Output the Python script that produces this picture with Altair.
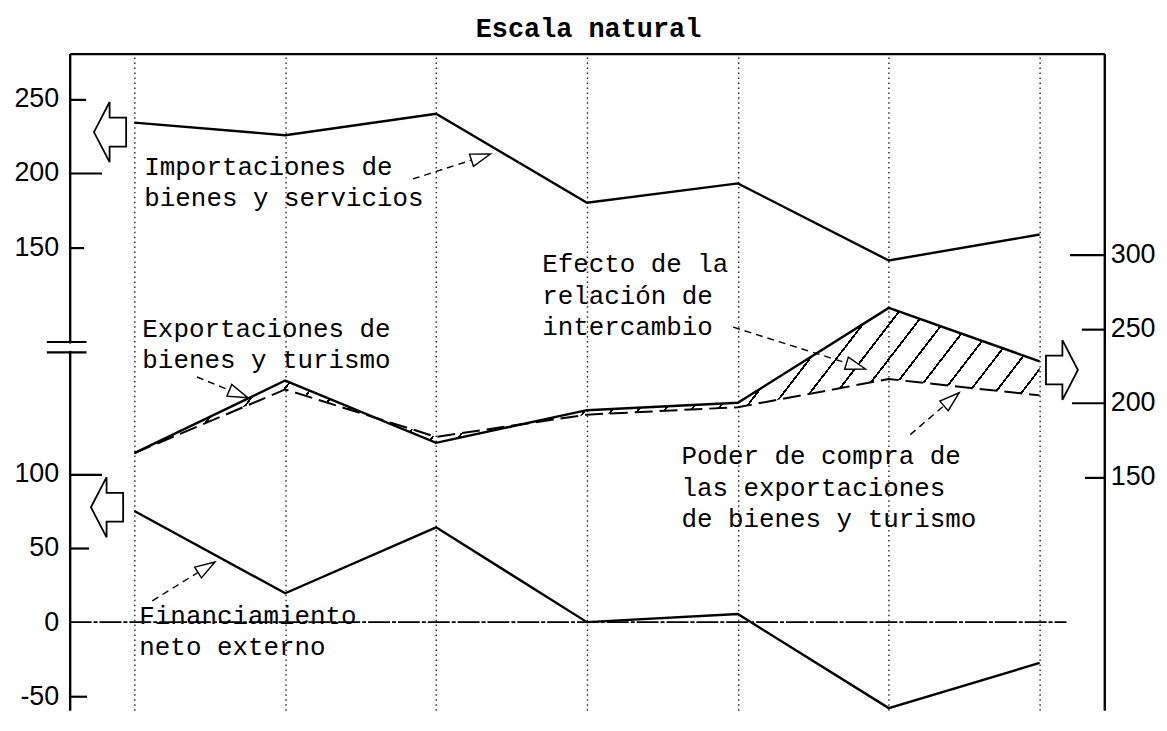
import altair as alt
import pandas as pd

# ---------------- data ----------------
periods = [1, 2, 3, 4, 5, 6, 7]

# upper-left scale
importaciones = [234, 225.5, 240, 180, 193, 141, 158.5]
# right-hand scale
exportaciones = [166, 215, 173, 195, 200, 264, 228]
poder_compra = [166, 209, 177, 192, 197, 216, 205]
# lower-left scale
financiamiento = [75, 19.5, 64, 0, 5.5, -58, -27.5]

# tick labels
left_upper_ticks = [250, 200, 150]
left_lower_ticks = [100, 50, 0, -50]
right_ticks = [300, 250, 200, 150]

# the plot is drawn in right-hand-scale units; the two left segments are shifted
UPPER_SHIFT = 155
LOWER_SHIFT = 52

TITLE = "Escala natural"

# ---------------- annotations (chart units) ----------------
label_text = [
    "Importaciones de\nbienes y servicios",
    "Exportaciones de\nbienes y turismo",
    "Efecto de la\nrelación de\nintercambio",
    "Poder de compra de\nlas exportaciones\nde bienes y turismo",
    "Financiamiento\nneto externo",
]
label_x = [1.066, 1.053, 3.703, 4.626, 1.033]
label_u = [353.7, 244.3, 287.9, 158.4, 51.0]

arrow_x0 = [2.846, 1.415, 4.969, 6.143, 1.119]
arrow_u0 = [351.0, 217.4, 251.0, 178.5, 66.4]
arrow_x1 = [3.360, 1.752, 5.846, 6.466, 1.534]
arrow_u1 = [367.8, 203.4, 222.8, 206.7, 92.6]
arrow_angle = [72, 112, 107, 49, 58]

block_left_x = [0.842, 0.822]
block_left_u = [382.6, 129.5]
block_right_x = [7.145]
block_right_u = [222.1]

MONO = "Courier New, Liberation Mono, monospace"
SANS = "Liberation Sans, Arial, sans-serif"
AXIS_FS = 27

# ---------------- tables ----------------
df_imp = pd.DataFrame({"periodo": periods, "valor": importaciones})
df_exp = pd.DataFrame({"periodo": periods, "valor": exportaciones})
df_pod = pd.DataFrame({"periodo": periods, "valor": poder_compra})
df_fin = pd.DataFrame({"periodo": periods, "valor": financiamiento})
df_hatch = pd.DataFrame({"periodo": periods, "exp": exportaciones, "pod": poder_compra})
df_labels = pd.DataFrame({"texto": label_text, "x": label_x, "u": label_u})
df_title = pd.DataFrame({"texto": [TITLE], "x": [4.01], "u": [447]})
df_arrows = pd.DataFrame({"x0": arrow_x0, "u0": arrow_u0, "x1": arrow_x1,
                          "u1": arrow_u1, "ang": arrow_angle})
df_bl = pd.DataFrame({"x": block_left_x, "u": block_left_u})
df_br = pd.DataFrame({"x": block_right_x, "u": block_right_u})
df_zero = pd.DataFrame({"x": [0.5714], "x2": [7.178], "valor": [0]})
df_break = pd.DataFrame({"x": [0.42, 0.42], "x2": [0.683, 0.683], "u": [241, 234]})
df_gap = pd.DataFrame({"x": [0.5714], "u": [235], "u2": [240]})

# ---------------- scales & axes ----------------
xscale = alt.Scale(domain=[0.5714, 7.4286], nice=False, zero=False)
yscale = alt.Scale(domain=[-7.38, 435.57], nice=False, zero=False)

x_axis = alt.Axis(orient="top", values=periods, labels=False, ticks=False,
                  domain=True, domainColor="black", domainWidth=2.4,
                  grid=True, gridDash=[1.5, 3.5], gridColor="#222", gridWidth=1.4,
                  title=None, minExtent=0, maxExtent=0)


def X(field):
    return alt.X(f"{field}:Q", scale=xscale, axis=x_axis)


left_vals = [t + UPPER_SHIFT for t in left_upper_ticks] + [t + LOWER_SHIFT for t in left_lower_ticks]
left_label_axis = alt.Axis(
    orient="left", values=left_vals,
    labelExpr=f"datum.value > 250 ? datum.value - {UPPER_SHIFT} : datum.value - {LOWER_SHIFT}",
    ticks=False, tickSize=0, domain=True, domainColor="black", domainWidth=2.4,
    labelFont=SANS, labelFontSize=AXIS_FS, labelColor="black",
    labelPadding=11, grid=False, title=None)

right_label_axis = alt.Axis(
    orient="right", values=right_ticks, format="d",
    ticks=False, tickSize=0, domain=True, domainColor="black", domainWidth=2.4,
    labelFont=SANS, labelFontSize=AXIS_FS, labelColor="black",
    labelPadding=6, grid=False, title=None)

left_tick_len = {250 + UPPER_SHIFT: 16, 200 + UPPER_SHIFT: 32, 150 + UPPER_SHIFT: 14,
                 100 + LOWER_SHIFT: 32, 50 + LOWER_SHIFT: 19, -50 + LOWER_SHIFT: 17}
right_tick_len = {300: 35, 250: 23, 200: 33, 150: 20}


def cond(d, default):
    return {"condition": [{"test": f"datum.value == {k}", "value": v} for k, v in d.items()],
            "value": default}


left_tick_axis = alt.Axis(orient="right", offset=-1040, values=list(left_tick_len.keys()),
                          labels=False, ticks=True, tickSize=cond(left_tick_len, 16),
                          tickWidth=2.2, tickColor="black", domain=False, grid=False, title=None)
right_tick_axis = alt.Axis(orient="left", offset=-1040, values=list(right_tick_len.keys()),
                           labels=False, ticks=True, tickSize=cond(right_tick_len, 20),
                           tickWidth=2.2, tickColor="black", domain=False, grid=False, title=None)

# ---------------- hatching (striped gradient) ----------------
n = 40
w = 0.09 / n
stops = []
for i in range(n):
    o = i / n
    stops += [alt.GradientStop(color="black", offset=o),
              alt.GradientStop(color="black", offset=o + w),
              alt.GradientStop(color="rgba(255,255,255,0)", offset=o + w),
              alt.GradientStop(color="rgba(255,255,255,0)", offset=(i + 1) / n)]
hatch_fill = alt.LinearGradient(gradient="linear", stops=stops, x1=0, y1=0, x2=1.15, y2=0.142)

LINE_W = 2.4

hatch = alt.Chart(df_hatch).mark_area(fill=hatch_fill, stroke=None).encode(
    x=X("periodo"), y=alt.Y("exp:Q", scale=yscale, axis=None), y2="pod:Q")

imp = alt.Chart(df_imp).transform_calculate(u=f"datum.valor + {UPPER_SHIFT}").mark_line(
    color="black", strokeWidth=LINE_W).encode(
    x=X("periodo"), y=alt.Y("u:Q", scale=yscale, axis=left_label_axis))

exp = alt.Chart(df_exp).mark_line(color="black", strokeWidth=LINE_W).encode(
    x=X("periodo"), y=alt.Y("valor:Q", scale=yscale, axis=right_label_axis))

pod = alt.Chart(df_pod).mark_line(color="black", strokeWidth=2.0, strokeDash=[18, 7]).encode(
    x=X("periodo"), y=alt.Y("valor:Q", scale=yscale, axis=right_tick_axis))

fin = alt.Chart(df_fin).transform_calculate(u=f"datum.valor + {LOWER_SHIFT}").mark_line(
    color="black", strokeWidth=LINE_W).encode(
    x=X("periodo"), y=alt.Y("u:Q", scale=yscale, axis=left_tick_axis))

zero = alt.Chart(df_zero).transform_calculate(u=f"datum.valor + {LOWER_SHIFT}").mark_rule(
    color="black", strokeWidth=1.6, strokeDash=[22, 2, 4, 2]).encode(
    x=X("x"), x2="x2:Q", y=alt.Y("u:Q", scale=yscale, axis=None))

shafts = alt.Chart(df_arrows).mark_rule(color="black", strokeWidth=1.4, strokeDash=[7, 5]).encode(
    x=X("x0"), x2="x1:Q", y=alt.Y("u0:Q", scale=yscale, axis=None), y2="u1:Q")

HEAD = "M0,0 L0.32,1 L-0.32,1 Z"
heads = alt.Chart(df_arrows).mark_point(shape=HEAD, filled=True, fill="white", stroke="black",
                                        strokeWidth=1.4, size=1600, opacity=1).encode(
    x=X("x1"), y=alt.Y("u1:Q", scale=yscale, axis=None), angle=alt.Angle("ang:Q", scale=None))

labels = alt.Chart(df_labels).mark_text(align="left", baseline="alphabetic", font=MONO,
                                        fontSize=26, lineHeight=31.5, lineBreak="\n",
                                        color="black").encode(
    x=X("x"), y=alt.Y("u:Q", scale=yscale, axis=None), text="texto:N")

title = alt.Chart(df_title).mark_text(align="center", baseline="alphabetic", font=MONO,
                                      fontSize=27, fontWeight="bold", color="black").encode(
    x=X("x"), y=alt.Y("u:Q", scale=yscale, axis=None), text="texto:N")

LEFT_BLOCK = "M-0.55,0 L-0.03,-1 L-0.03,-0.48 L0.52,-0.48 L0.52,0.48 L-0.03,0.48 L-0.03,1 Z"
RIGHT_BLOCK = "M0.55,0 L0.03,-1 L0.03,-0.48 L-0.52,-0.48 L-0.52,0.48 L0.03,0.48 L0.03,1 Z"

bl = alt.Chart(df_bl).mark_point(shape=LEFT_BLOCK, filled=False, stroke="black",
                                 strokeWidth=1.8, size=3660, opacity=1).encode(
    x=X("x"), y=alt.Y("u:Q", scale=yscale, axis=None))
br = alt.Chart(df_br).mark_point(shape=RIGHT_BLOCK, filled=False, stroke="black",
                                 strokeWidth=1.8, size=3600, opacity=1).encode(
    x=X("x"), y=alt.Y("u:Q", scale=yscale, axis=None))

gap = alt.Chart(df_gap).mark_rule(color="white", strokeWidth=6).encode(
    x=X("x"), y=alt.Y("u:Q", scale=yscale, axis=None), y2="u2:Q")
brk = alt.Chart(df_break).mark_rule(color="black", strokeWidth=2.2).encode(
    x=X("x"), x2="x2:Q", y=alt.Y("u:Q", scale=yscale, axis=None))

chart = alt.layer(
    hatch, imp, exp, pod, fin, zero, shafts, heads, labels, title, bl, br, gap, brk
).resolve_scale(y="shared", x="shared").resolve_axis(y="independent").properties(
    width=1040, height=660,
    padding={"left": 62, "top": 44, "right": 55, "bottom": 0},
    autosize=alt.AutoSizeParams(type="none"),
    background="white",
).configure_view(stroke=None)

chart.save("out.html", embed_options={"renderer": "svg", "actions": False})
